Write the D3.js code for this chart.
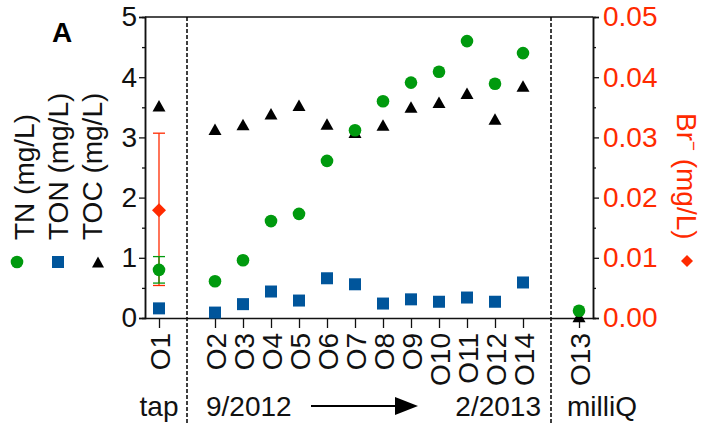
<!DOCTYPE html>
<html>
<head>
<meta charset="utf-8">
<script src="https://cdn.jsdelivr.net/npm/d3@7"></script>
<style>
  body { margin: 0; background: #fff; }
  svg { display: block; font-family: "Liberation Sans", Arial, sans-serif; }
</style>
</head>
<body>
<svg width="703" height="425"></svg>
<script>
// sites, grouped as in the figure: tap | 9/2012 -> 2/2013 | milliQ
var tapSites = ['O1'];
var seriesSites = ['O2','O3','O4','O5','O6','O7','O8','O9','O10','O11','O12','O14'];
var milliQSites = ['O13'];
var sites = tapSites.concat(seriesSites, milliQSites);

// mg/L, same order as sites
var tn  = [0.80, 0.61, 0.96, 1.61, 1.73, 2.61, 3.12, 3.60, 3.91, 4.09, 4.60, 3.89, 4.40, 0.12];
var ton = [0.16, 0.09, 0.23, 0.44, 0.29, 0.66, 0.56, 0.24, 0.31, 0.27, 0.34, 0.27, 0.59, null];
var toc = [3.52, 3.13, 3.21, 3.39, 3.53, 3.22, 3.08, 3.20, 3.50, 3.58, 3.73, 3.30, 3.85, 0.02];
var br  = [0.0179, null, null, null, null, null, null, null, null, null, null, null, null, null];
// error bars (only O1 has them)
var tnErr = [{site:'O1', lo:0.58, hi:1.02}];
var brErr = [{site:'O1', lo:0.0054, hi:0.0307}];

var leftTicks = [0, 1, 2, 3, 4, 5];
var rightTicks = [0, 0.01, 0.02, 0.03, 0.04, 0.05];

var green = '#009a0e', blue = '#00559b', red = '#ff2a00';

var svg = d3.select('svg');
// note: "top" is taken by window.top, so plot edges get their own names
var pL = 145, pR = 593, pT = 17, pB = 318;

// spacer slots between the groups hold the dashed separators
var x = d3.scalePoint()
    .domain(tapSites.concat(['|a'], seriesSites, ['|b'], milliQSites))
    .range([pL, pR])
    .padding(0.5);
var y = d3.scaleLinear().domain([0, 5]).range([pB, pT]);
var yBr = d3.scaleLinear().domain([0, 0.05]).range([pB, pT]);

// frame top line
svg.append('line')
    .attr('x1', pL).attr('x2', pR).attr('y1', pT).attr('y2', pT)
    .attr('stroke', '#111').attr('stroke-width', 1.5);

// dashed separators
svg.selectAll('.sep').data(['|a', '|b']).enter().append('line')
    .attr('x1', function(d){ return x(d); }).attr('x2', function(d){ return x(d); })
    .attr('y1', pT).attr('y2', 425)
    .attr('stroke', '#000').attr('stroke-width', 1.5)
    .attr('stroke-dasharray', '4,2');

// left axis
var gl = svg.append('g').attr('transform', 'translate(' + pL + ',0)');
gl.append('g').call(d3.axisLeft(y).tickValues(d3.range(0.5, 5, 1)).tickSize(3).tickFormat(''));
gl.append('g').call(d3.axisLeft(y).tickValues(leftTicks).tickSize(6).tickPadding(2).tickFormat(d3.format('d')));
gl.selectAll('text').attr('font-size', 28).attr('fill', '#111');
gl.selectAll('.domain').attr('stroke', '#111').attr('stroke-width', 1.5);
gl.selectAll('line').attr('stroke', '#111').attr('stroke-width', 1.3);

// right axis
var gr = svg.append('g').attr('transform', 'translate(' + pR + ',0)');
gr.append('g').call(d3.axisRight(yBr).tickValues(d3.range(0.005, 0.05, 0.01)).tickSize(3).tickFormat(''));
gr.append('g').call(d3.axisRight(yBr).tickValues(rightTicks).tickSize(6).tickPadding(4).tickFormat(d3.format('.2f')));
gr.selectAll('text').attr('font-size', 28).attr('fill', red);
gr.selectAll('.domain').attr('stroke', '#111').attr('stroke-width', 1.5);
gr.selectAll('line').attr('stroke', '#111').attr('stroke-width', 1.3);
svg.selectAll('g').attr('font-family', null);

// bottom axis
var gb = svg.append('g').attr('transform', 'translate(0,' + pB + ')');
gb.call(d3.axisBottom(x).tickValues(sites).tickSize(10).tickSizeOuter(0));
gb.attr('font-family', null);
gb.selectAll('.domain').attr('stroke', '#111').attr('stroke-width', 1.5);
gb.selectAll('line').attr('stroke', '#111').attr('stroke-width', 1.3);
gb.selectAll('text')
    .attr('font-size', 28).attr('fill', '#111')
    .attr('text-anchor', 'end')
    .attr('y', 0).attr('dy', '0.36em')
    .attr('transform', 'translate(0,15) rotate(-90)');

function pts(vals) {
    return sites.map(function(s, i){ return {site: s, v: vals[i]}; })
        .filter(function(d){ return d.v != null; });
}

// Br- error bar + diamond (right axis)
var eb = svg.append('g').attr('stroke', red).attr('stroke-width', 1.3);
brErr.forEach(function(e){
    var cx = x(e.site);
    eb.append('line').attr('x1', cx).attr('x2', cx).attr('y1', yBr(e.lo)).attr('y2', yBr(e.hi));
    eb.append('line').attr('x1', cx - 6).attr('x2', cx + 6).attr('y1', yBr(e.lo)).attr('y2', yBr(e.lo));
    eb.append('line').attr('x1', cx - 6).attr('x2', cx + 6).attr('y1', yBr(e.hi)).attr('y2', yBr(e.hi));
});
svg.selectAll('.br').data(pts(br)).enter().append('path')
    .attr('d', 'M0,-7L7,0L0,7L-7,0Z')
    .attr('transform', function(d){ return 'translate(' + x(d.site) + ',' + yBr(d.v) + ')'; })
    .attr('fill', red);

// TOC triangles
var tri = 'M0,-6L6.5,5.5L-6.5,5.5Z';
svg.selectAll('.toc').data(pts(toc)).enter().append('path')
    .attr('d', tri)
    .attr('transform', function(d){ return 'translate(' + x(d.site) + ',' + y(d.v) + ')'; })
    .attr('fill', '#000');

// TON squares
svg.selectAll('.ton').data(pts(ton)).enter().append('rect')
    .attr('x', function(d){ return x(d.site) - 6; })
    .attr('y', function(d){ return y(d.v) - 6; })
    .attr('width', 12).attr('height', 12)
    .attr('fill', blue);

// TN error bar + circles
var eg = svg.append('g').attr('stroke', green).attr('stroke-width', 1.3);
tnErr.forEach(function(e){
    var cx = x(e.site);
    eg.append('line').attr('x1', cx).attr('x2', cx).attr('y1', y(e.lo)).attr('y2', y(e.hi));
    eg.append('line').attr('x1', cx - 6).attr('x2', cx + 6).attr('y1', y(e.lo)).attr('y2', y(e.lo));
    eg.append('line').attr('x1', cx - 6).attr('x2', cx + 6).attr('y1', y(e.hi)).attr('y2', y(e.hi));
});
svg.selectAll('.tn').data(pts(tn)).enter().append('circle')
    .attr('cx', function(d){ return x(d.site); })
    .attr('cy', function(d){ return y(d.v); })
    .attr('r', 6.3)
    .attr('fill', green);

// left axis titles with their symbols
var titles = [
    {text: 'TN (mg/L)', bx: 34},
    {text: 'TON (mg/L)', bx: 68},
    {text: 'TOC (mg/L)', bx: 102}
];
svg.selectAll('.ytitle').data(titles).enter().append('text')
    .attr('transform', function(d){ return 'translate(' + d.bx + ',240) rotate(-90)'; })
    .attr('font-size', 28).attr('fill', '#111')
    .text(function(d){ return d.text; });
svg.append('circle').attr('cx', 17).attr('cy', 262).attr('r', 6.3).attr('fill', green);
svg.append('rect').attr('x', 52).attr('y', 256).attr('width', 12).attr('height', 12).attr('fill', blue);
svg.append('path').attr('d', 'M0,-5.5L6,5.5L-6,5.5Z').attr('transform', 'translate(98,262)').attr('fill', '#000');

// right axis title
var brT = svg.append('text')
    .attr('transform', 'translate(677,113) rotate(90)')
    .attr('font-size', 28).attr('fill', red);
brT.append('tspan').text('Br');
brT.append('tspan').attr('font-size', 17).attr('dy', -11).text('\u2212');
brT.append('tspan').attr('dy', 11).text(' (mg/L)');
svg.append('path').attr('d', 'M0,-6L6,0L0,6L-6,0Z')
    .attr('transform', 'translate(687,261)').attr('fill', red);

// panel letter
svg.append('text').attr('x', 52).attr('y', 42)
    .attr('font-size', 28).attr('font-weight', 'bold').text('A');

// group labels along the bottom
var gy = 416;
svg.append('text').attr('x', x('O1')).attr('y', gy).attr('text-anchor', 'middle')
    .attr('font-size', 28).attr('fill', '#111').text('tap');
svg.append('text').attr('x', 206).attr('y', gy)
    .attr('font-size', 28).attr('fill', '#111').text('9/2012');
svg.append('text').attr('x', 541).attr('y', gy).attr('text-anchor', 'end')
    .attr('font-size', 28).attr('fill', '#111').text('2/2013');
svg.append('text').attr('x', 567).attr('y', gy)
    .attr('font-size', 28).attr('fill', '#111').text('milliQ');
svg.append('line').attr('x1', 311).attr('x2', 398).attr('y1', 406).attr('y2', 406)
    .attr('stroke', '#000').attr('stroke-width', 2);
svg.append('path').attr('d', 'M395,397L418,406L395,415Z').attr('fill', '#000');
</script>
</body>
</html>
